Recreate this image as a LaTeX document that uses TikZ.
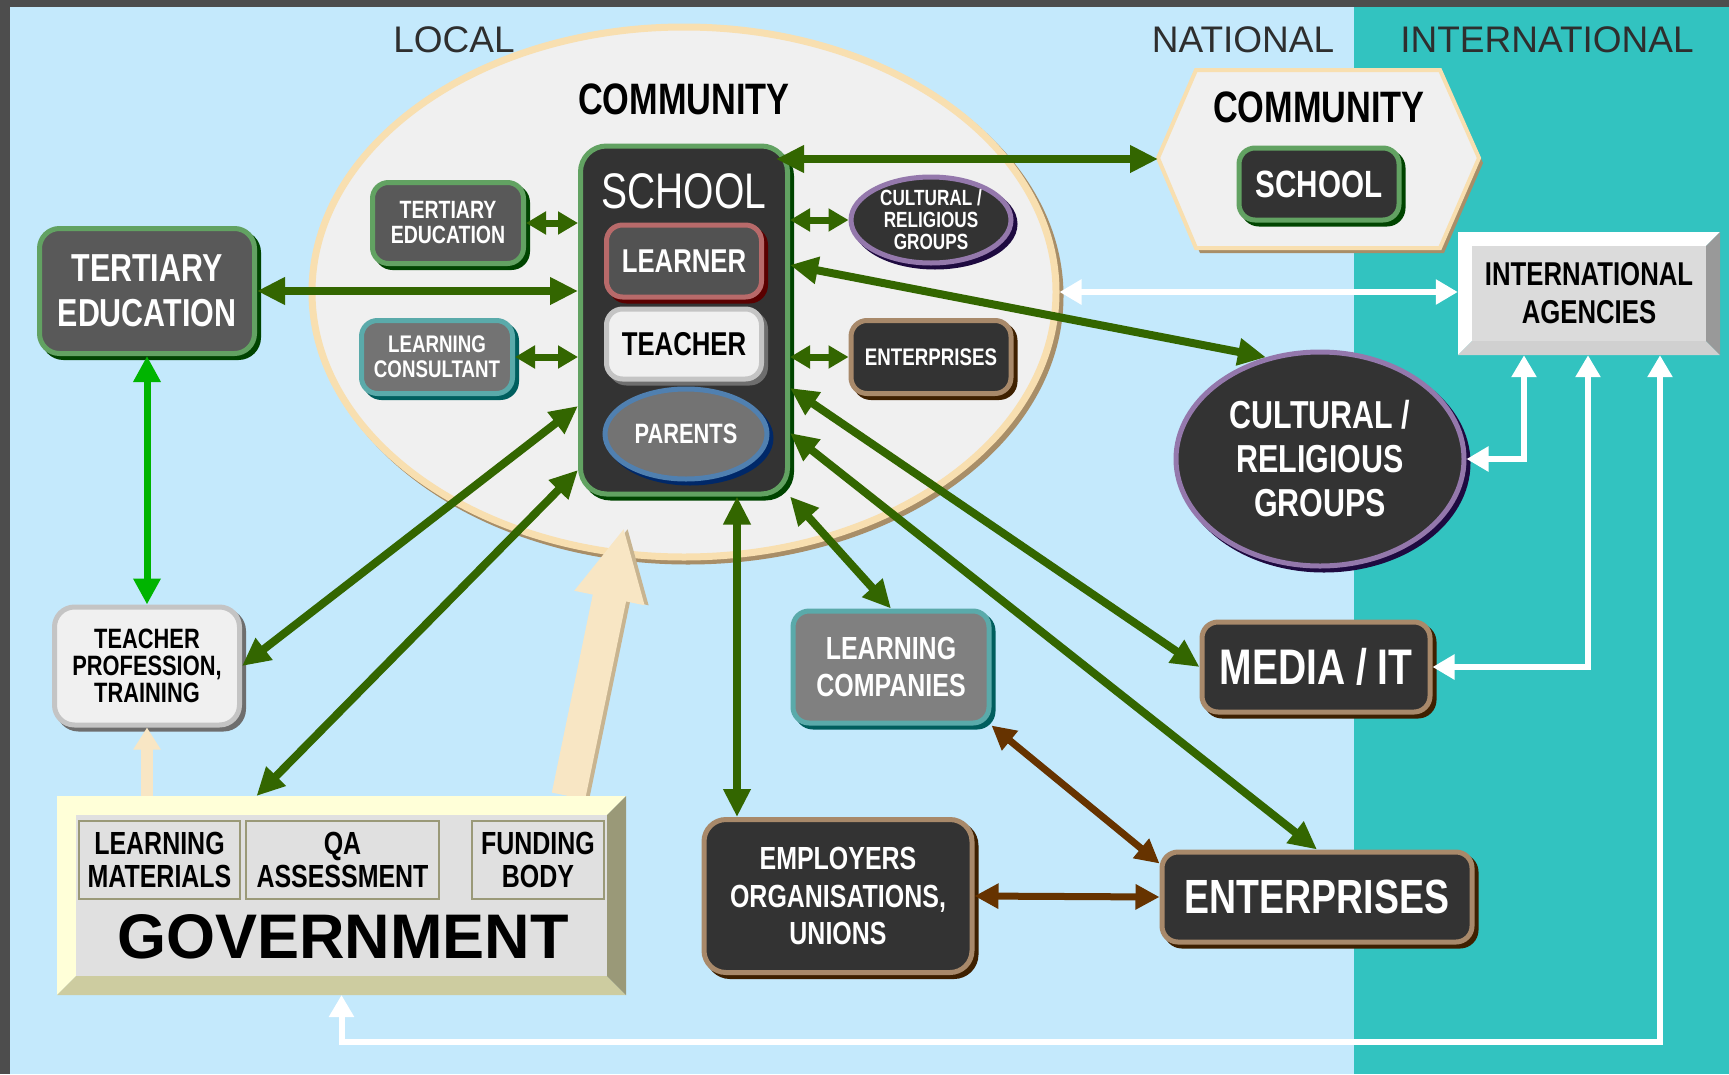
\documentclass[tikz,border=0pt]{standalone}
\usepackage{fontspec}
\setmainfont{Liberation Sans}
\newfontfamily\narrow[FakeStretch=0.78]{Liberation Sans}
\usetikzlibrary{arrows.meta,shapes.geometric,shadows}
\definecolor{frame}{HTML}{4D4D4D}
\definecolor{sky}{HTML}{C4E9FC}
\definecolor{sea}{HTML}{32C3C0}
\definecolor{chalk}{HTML}{F0F0F0}
\definecolor{sandlt}{HTML}{F8DFB0}
\definecolor{sanddk}{HTML}{A88E68}
\definecolor{slate}{HTML}{333333}
\definecolor{ink}{HTML}{2E2E2E}
\definecolor{leaf}{HTML}{336600}
\definecolor{lime}{HTML}{00B400}
\definecolor{bark}{HTML}{663300}
\definecolor{cream}{HTML}{F8E6C4}
\definecolor{creamdk}{HTML}{C8B490}
\definecolor{greenlt}{HTML}{62A262}
\definecolor{greendk}{HTML}{004400}
\definecolor{redlt}{HTML}{B86A6A}
\definecolor{reddk}{HTML}{5A0000}
\definecolor{bluelt}{HTML}{5080B0}
\definecolor{bluedk}{HTML}{002868}
\definecolor{teallt}{HTML}{5AAAAA}
\definecolor{tealdk}{HTML}{005E5E}
\definecolor{plumlt}{HTML}{9478AC}
\definecolor{plumdk}{HTML}{1E0A40}
\definecolor{tanlt}{HTML}{A8896A}
\definecolor{tandk}{HTML}{3E2000}
\definecolor{greylt}{HTML}{C4C4C4}
\definecolor{greydk}{HTML}{6E6E6E}
\definecolor{butter}{HTML}{FFFFD8}
\definecolor{olive}{HTML}{CDCCA0}
\definecolor{olivedk}{HTML}{9A9978}
\definecolor{panel}{HTML}{E0E0E0}
\newcommand\fsz[2]{\fontsize{#1}{#2}\selectfont}

\begin{document}
\begin{tikzpicture}[x=1pt, y=-1pt,
    rim/.style 2 args={draw=#1, line width=5pt,
      copy shadow={shadow xshift=4pt, shadow yshift=-4pt, draw=#2, fill=#2}},
    tile/.style={rectangle, rounded corners=16pt, align=center, text=white,
      inner sep=2pt},
    blob/.style={ellipse, align=center, text=white, inner sep=0pt},
    cell/.style={draw=olivedk, line width=2pt, minimum height=78pt,
      align=center, inner sep=0pt, font=\narrow\bfseries\fsz{32}{33}},
    heading/.style={text=ink, font=\fsz{37}{37}},
    link/.style={leaf, line width=8pt,
      {Triangle[length=28pt,width=26pt]}-{Triangle[length=28pt,width=26pt]}},
    short link/.style={leaf, line width=7pt,
      {Triangle[length=20pt,width=22pt]}-{Triangle[length=20pt,width=22pt]}},
    trade/.style={bark, line width=7pt,
      {Triangle[length=24pt,width=24pt]}-{Triangle[length=24pt,width=24pt]}},
    wire/.style={white, line width=6pt,
      {Triangle[length=22pt,width=24pt]}-{Triangle[length=22pt,width=24pt]}}
  ]
  \fill[frame] (0,0) rectangle (1729,1074);
  \fill[sky] (10,7) rectangle (1354,1074);
  \fill[sea] (1354,7) rectangle (1729,1074);
  \useasboundingbox (0,0) rectangle (1729,1074);

  \node[heading] (local) at (454,40) {LOCAL};
  \node[heading] (national) at (1243,40) {NATIONAL};
  \node[heading] (intl) at (1547,40) {INTERNATIONAL};

  \node[ellipse, minimum width=744pt, minimum height=530pt, fill=chalk,
    rim={sandlt}{sanddk}, line width=7pt] (comm) at (684,292) {};
  \node[font=\narrow\bfseries\fsz{44}{44}] (commtxt) at (684,99) {COMMUNITY};

  \fill[sanddk] (1162,163) -- (1200,75) -- (1444,75) -- (1483,163) -- (1444,253) -- (1200,253) -- cycle;
  \filldraw[fill=chalk, draw=sandlt, line width=4pt] (1158,158) -- (1196,70) -- (1440,70)
    -- (1479,158) -- (1440,248) -- (1196,248) -- cycle;
  \node[minimum width=321pt, minimum height=178pt, inner sep=0pt, outer sep=0pt] (hex) at (1318.5,159) {};
  \node[font=\narrow\bfseries\fsz{44}{44}] (hexcomm) at (1319,107) {COMMUNITY};
  \node[tile, rim={greenlt}{greendk}, fill=slate, minimum width=160pt, minimum height=72pt,
    font=\narrow\bfseries\fsz{38}{38}] (hexschool) at (1319,184) {SCHOOL};

  \node[minimum width=569pt, minimum height=199pt, inner sep=0pt, outer sep=0pt] (gov) at (341.5,895.5) {};
  \draw[creamdk, line width=34pt, -{Triangle[length=72pt,width=66pt]},
    transform canvas={xshift=4pt}] ([xshift=227pt]gov.north) -- ([xshift=-60pt,yshift=33pt]comm.south);
  \draw[cream, line width=34pt, -{Triangle[length=72pt,width=66pt]}]
    ([xshift=227pt]gov.north) -- ([xshift=-60pt,yshift=33pt]comm.south);

  \fill[butter] (57,796) -- (626,796) -- (607,815) -- (76,815) -- (76,976) -- (57,995) -- cycle;
  \fill[olive] (57,995) -- (76,976) -- (607,976) -- (626,995) -- cycle;
  \fill[olivedk] (626,796) -- (626,995) -- (607,976) -- (607,815) -- cycle;
  \fill[panel] (76,815) rectangle (607,976);
  \node[cell, minimum width=161pt] (materials) at (159.5,860) {LEARNING\\MATERIALS};
  \node[cell, minimum width=193pt] (qa) at (342.5,860) {QA\\ASSESSMENT};
  \node[cell, minimum width=132pt] (funding) at (538,860) {FUNDING\\BODY};
  \node[font=\bfseries\fsz{63}{63}] (govtxt) at (343,937) {GOVERNMENT};

  \fill[white] (1458,232) -- (1720,232) -- (1706,246) -- (1472,246) -- (1472,341) -- (1458,355) -- cycle;
  \fill[greylt!80!white] (1458,355) -- (1472,341) -- (1706,341) -- (1720,355) -- cycle;
  \fill[black!40] (1720,232) -- (1720,355) -- (1706,341) -- (1706,246) -- cycle;
  \fill[black!14] (1472,246) rectangle (1706,341);
  \node[minimum width=262pt, minimum height=123pt, align=center,
    font=\narrow\bfseries\fsz{33}{38}] (agency) at (1589,293.5) {INTERNATIONAL\\AGENCIES};

  \node[tile, rim={greenlt}{greendk}, fill=slate, rounded corners=26pt,
    minimum width=207pt, minimum height=348pt] (school) at (684,320) {};
  \node[text=white, font=\narrow\fsz{50}{50}] (schooltxt) at (684,191) {SCHOOL};
  \node[tile, rim={redlt}{reddk}, fill=black!68, minimum width=155pt, minimum height=72pt,
    font=\narrow\bfseries\fsz{33}{33}] (learner) at (684,261) {LEARNER};
  \node[tile, rim={greylt}{greydk}, fill=chalk, text=black, minimum width=155pt, minimum height=70pt,
    font=\narrow\bfseries\fsz{33}{33}] (teacher) at (684,344) {TEACHER};
  \node[blob, rim={bluelt}{bluedk}, fill=black!55, minimum width=162pt, minimum height=90pt,
    font=\narrow\bfseries\fsz{28}{28}] (parents) at (686,434) {PARENTS};

  \node[tile, rim={greenlt}{greendk}, fill=black!65, minimum width=151pt, minimum height=81pt,
    font=\narrow\bfseries\fsz{25}{25}] (tertin) at (448,223) {TERTIARY\\EDUCATION};
  \node[tile, rim={teallt}{tealdk}, fill=black!55, minimum width=151pt, minimum height=73pt,
    font=\narrow\bfseries\fsz{24}{25}] (consult) at (437,357) {LEARNING\\CONSULTANT};
  \node[blob, rim={plumlt}{plumdk}, fill=slate, minimum width=160pt, minimum height=86pt,
    font=\narrow\bfseries\fsz{22}{22}] (cultin) at (931,220) {CULTURAL /\\RELIGIOUS\\GROUPS};
  \node[tile, rim={tanlt}{tandk}, fill=slate, minimum width=160pt, minimum height=73pt,
    font=\narrow\bfseries\fsz{24}{24}] (entin) at (931,357) {ENTERPRISES};

  \node[tile, rim={greenlt}{greendk}, fill=black!65, rounded corners=20pt, minimum width=215pt,
    minimum height=125pt, font=\narrow\bfseries\fsz{39}{45}] (tertout) at (147,291) {TERTIARY\\EDUCATION};
  \node[tile, rim={greylt}{greydk}, fill=chalk, text=black, rounded corners=20pt, minimum width=185pt,
    minimum height=118pt, font=\narrow\bfseries\fsz{28}{27}] (tprof) at (147,666) {TEACHER\\PROFESSION,\\TRAINING};

  \node[tile, rim={tanlt}{tandk}, fill=slate, rounded corners=22pt, minimum width=268pt,
    minimum height=153pt, font=\narrow\bfseries\fsz{32}{37.5}] (employ) at (838,896) {EMPLOYERS\\ORGANISATIONS,\\UNIONS};
  \node[tile, rim={tanlt}{tandk}, fill=slate, minimum width=310pt, minimum height=90pt,
    font=\narrow\bfseries\fsz{48}{48}] (entout) at (1317,897) {ENTERPRISES};
  \node[tile, rim={teallt}{tealdk}, fill=black!50, minimum width=196pt, minimum height=112pt,
    font=\narrow\bfseries\fsz{32}{37.5}] (lcomp) at (891,667) {LEARNING\\COMPANIES};
  \node[tile, rim={tanlt}{tandk}, fill=slate, minimum width=228pt, minimum height=90pt,
    font=\narrow\bfseries\fsz{50}{50}] (media) at (1316,667) {MEDIA / IT};
  \node[blob, rim={plumlt}{plumdk}, fill=slate, minimum width=288pt, minimum height=214pt,
    font=\narrow\bfseries\fsz{39}{44}] (cultout) at (1320,459) {CULTURAL /\\RELIGIOUS\\GROUPS};

  \draw[link] (tertout.east) -- (school.west |- tertout.east);
  \draw[short link] (tertin.east) -- (school.west |- tertin.east);
  \draw[short link] (consult.east) -- (school.west |- consult.east);
  \draw[short link] (school.east |- cultin.west) -- (cultin.west);
  \draw[short link] (school.east |- entin.west) -- (entin.west);
  \draw[link] ([xshift=-14pt]school.east |- hex.west) -- (hex.west);
  \draw[link] ([yshift=55pt]school.east) -- (cultout.118);
  \draw[link] ([yshift=-86pt]school.west) -- (tprof.east);
  \draw[link] ([yshift=-150pt]school.west) -- ([xshift=-85pt]gov.north);
  \draw[link] ([xshift=53pt]school.south) -- ([xshift=53pt]school.south |- employ.north);
  \draw[link] (school.south east) -- (lcomp.north);
  \draw[link] ([yshift=-113pt]school.east) -- (entout.north);
  \draw[link] ([yshift=-68pt]school.east) -- (media.west);
  \draw[lime, line width=7pt, {Triangle[length=26pt,width=26pt]}-{Triangle[length=26pt,width=26pt]}]
    (tertout.south) -- (tprof.north);
  \draw[trade] (lcomp.south east) -- ([yshift=-14pt]entout.north west);
  \draw[trade] (employ.east) -- (entout.west);
  \draw[cream, line width=12pt, -{Triangle[length=22pt,width=26pt]}] (gov.north -| tprof.south) -- (tprof.south);

  \draw[wire] (comm.east) -- (comm.east -| agency.west);
  \draw[wire] ([xshift=-65pt]agency.south) |- (cultout.east);
  \draw[wire] ([xshift=-1pt]agency.south) |- (media.east);
  \draw[wire] ([xshift=71pt]agency.south) -- ++(0,687) -| (gov.south);
\end{tikzpicture}
\end{document}
